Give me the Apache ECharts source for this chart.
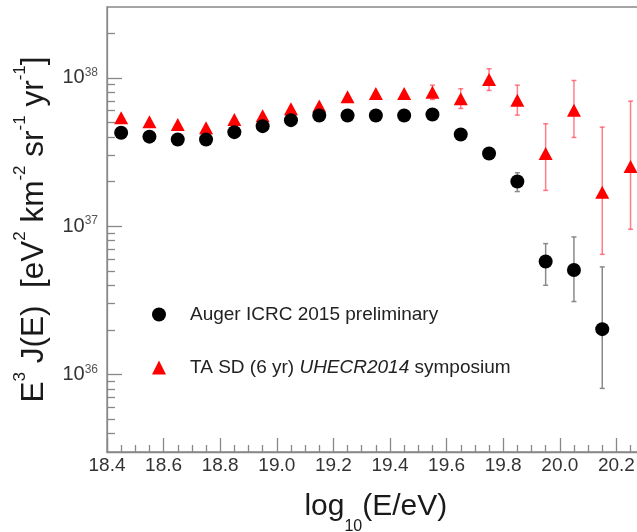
<!DOCTYPE html>
<html>
<head>
<meta charset="utf-8">
<script src="https://cdn.jsdelivr.net/npm/echarts@6/dist/echarts.min.js"></script>
<style>html,body{margin:0;padding:0;background:#fff;}#c{width:637px;height:532px;}</style>
</head>
<body>
<div id="c"></div>
<script>
// ---- data ----
const energy = [18.45, 18.55, 18.65, 18.75, 18.85, 18.95, 19.05, 19.15, 19.25, 19.35,
                19.45, 19.55, 19.65, 19.75, 19.85, 19.95, 20.05, 20.15, 20.25];
const augerFlux = [4.26e37, 4.01e37, 3.84e37, 3.84e37, 4.30e37, 4.72e37, 5.18e37, 5.57e37, 5.57e37,
                   5.57e37, 5.57e37, 5.66e37, 4.15e37, 3.09e37, 2.0e37, 5.77e36, 5.06e36, 2.02e36];
const augerLow  = [null, null, null, null, null, null, null, null, null,
                   null, null, null, null, null, 1.71e37, 3.99e36, 3.10e36, 8.05e35];
const augerHigh = [null, null, null, null, null, null, null, null, null,
                   null, null, null, null, null, 2.29e37, 7.62e36, 8.45e36, 5.31e36];
const taFlux = [5.38e37, 5.06e37, 4.85e37, 4.60e37, 5.24e37, 5.55e37, 6.18e37, 6.44e37, 7.45e37, 7.84e37,
                7.84e37, 8.0e37, 7.23e37, 9.74e37, 7.05e37, 3.09e37, 6.04e37, 1.69e37, 2.52e37];
const taLow  = [null, null, null, null, null, null, null, null, null, null,
                null, 7.14e37, 6.21e37, 8.21e37, 5.6e37, 1.74e37, 3.96e37, 6.45e36, 9.52e36];
const taHigh = [null, null, null, null, null, null, null, null, null, null,
                null, 8.92e37, 8.43e37, 1.15e38, 8.92e37, 4.9e37, 9.59e37, 4.65e37, 6.96e37];
const xTickLabels = ['18.4', '18.6', '18.8', '19.0', '19.2', '19.4', '19.6', '19.8', '20.0', '20.2'];
const yMajorTicks = [1e36, 1e37, 1e38];
const yMinorMantissa = [2, 3, 4, 5, 6, 7, 8, 9];
const yDecades = [1e35, 1e36, 1e37, 1e38];
const seriesNames = ['Auger ICRC 2015 preliminary', 'TA SD (6 yr) UHECR2014 symposium'];

const yMin = 3e35, yMax = 3e38;
const yMinorTicks = [];
yDecades.forEach(d => yMinorMantissa.forEach(m => {
  const v = m * d;
  if (v > yMin * 1.0001 && v < yMax * 0.9999) yMinorTicks.push(v);
}));

function pairs(flux) { return flux.map((v, i) => [energy[i], v]); }
function errData(low, high) {
  const out = [];
  low.forEach((l, i) => { if (l != null && high[i] != null) out.push([energy[i], l, high[i]]); });
  return out;
}
function errRender(color, width) {
  return function (params, api) {
    const x = api.value(0), lo = api.value(1), hi = api.value(2);
    const a = api.coord([x, hi]), b = api.coord([x, lo]);
    const cap = 2.5;
    const st = { stroke: color, lineWidth: width };
    return {
      type: 'group',
      children: [
        { type: 'line', shape: { x1: a[0], y1: a[1], x2: b[0], y2: b[1] }, style: st },
        { type: 'line', shape: { x1: a[0] - cap, y1: a[1], x2: a[0] + cap, y2: a[1] }, style: st },
        { type: 'line', shape: { x1: b[0] - cap, y1: b[1], x2: b[0] + cap, y2: b[1] }, style: st }
      ]
    };
  };
}

const axisGray = '#888888';
const font = 'Liberation Sans, Arial, sans-serif';

const chart = echarts.init(document.getElementById('c'), null, { renderer: 'canvas' });
chart.setOption({
  animation: false,
  backgroundColor: '#ffffff',
  textStyle: { fontFamily: font },
  grid: {
    left: 107, top: 7, bottom: 80, right: -7.7, show: true, borderColor: axisGray, borderWidth: 1.3,
    backgroundColor: 'transparent', containLabel: false, outerBoundsMode: 'none'
  },
  legend: {
    orient: 'vertical', left: 152, top: 305, itemGap: 34, itemWidth: 14, itemHeight: 14, padding: 0,
    selectedMode: false,
    data: [{ name: seriesNames[0], icon: 'circle' }, { name: seriesNames[1], icon: 'triangle' }],
    formatter: function (name) {
      if (name === seriesNames[1]) return '{p|}{n|TA SD (6 yr) }{i|UHECR2014}{n| symposium}';
      return '{p|}{n|' + name + '}';
    },
    textStyle: {
      rich: {
        p: { width: 19, lineHeight: 22 },
        n: { fontSize: 19, color: '#222', fontFamily: font, lineHeight: 22 },
        i: { fontSize: 19, color: '#222', fontFamily: font, fontStyle: 'italic', lineHeight: 22 }
      }
    }
  },
  xAxis: {
    type: 'value', min: 18.4, max: 20.3, interval: 0.2,
    name: '{m|log}{s|10}{m|(E/eV)}', nameLocation: 'middle', nameGap: 27,
    nameTextStyle: {
      rich: {
        m: { fontSize: 30, color: '#1a1a1a', fontFamily: font, lineHeight: 56 },
        s: { fontSize: 16, color: '#1a1a1a', fontFamily: font, lineHeight: 16, verticalAlign: 'bottom' }
      }
    },
    axisLine: { show: true, onZero: false, lineStyle: { color: axisGray, width: 1.3 } },
    axisTick: { show: true, inside: true, length: 14, lineStyle: { color: axisGray, width: 1.3 } },
    minorTick: { show: true, splitNumber: 4, length: 7, lineStyle: { color: axisGray, width: 1.3 } },
    splitLine: { show: false },
    axisLabel: {
      margin: 4, fontSize: 19, color: '#333', fontFamily: font, showMaxLabel: false,
      formatter: function (v) {
        const s = v.toFixed(1);
        return xTickLabels.indexOf(s) >= 0 && Math.abs(v - parseFloat(s)) < 1e-6 ? s : '';
      }
    }
  },
  yAxis: [{
    type: 'log', logBase: 10, min: yMin, max: yMax,
    name: '{m|E}{s|3}{m| J(E)  [eV}{s|2}{m| km}{s|-2}{m| sr}{s|-1}{m| yr}{s|-1}{m|]}',
    nameLocation: 'middle', nameRotate: 90, nameGap: 51,
    nameTextStyle: {
      rich: {
        m: { fontSize: 31.5, color: '#1a1a1a', fontFamily: font, lineHeight: 44 },
        s: { fontSize: 17, color: '#1a1a1a', fontFamily: font, lineHeight: 17, verticalAlign: 'top' }
      }
    },
    axisLine: { show: true, onZero: false, lineStyle: { color: axisGray, width: 1.3 } },
    axisTick: { show: true, inside: true, length: 15, customValues: yMajorTicks, lineStyle: { color: axisGray, width: 1.3 } },
    splitLine: { show: false },
    minorTick: { show: false },
    axisLabel: {
      margin: 9, customValues: yMajorTicks,
      formatter: function (v) { return '{b|10}{s|' + Math.round(Math.log10(v)) + '}'; },
      rich: {
        b: { fontSize: 20, color: '#333', fontFamily: font, lineHeight: 22 },
        s: { fontSize: 12, color: '#555', fontFamily: font, lineHeight: 12, verticalAlign: 'top' }
      }
    }
  }, {
    type: 'log', logBase: 10, min: yMin, max: yMax, position: 'left', offset: 0,
    axisLine: { show: false },
    axisTick: { show: true, inside: true, length: 8, customValues: yMinorTicks, lineStyle: { color: axisGray, width: 1.3 } },
    axisLabel: { show: false },
    splitLine: { show: false },
    minorTick: { show: false }
  }],
  series: [
    {
      type: 'custom', name: 'augerErr', renderItem: errRender('#8a8a8a', 1.5),
      data: errData(augerLow, augerHigh), encode: { x: 0, y: [1, 2] }, z: 1, silent: true
    },
    {
      type: 'custom', name: 'taErr', renderItem: errRender('rgba(255,40,60,0.6)', 1.5),
      data: errData(taLow, taHigh), encode: { x: 0, y: [1, 2] }, z: 1, silent: true
    },
    {
      type: 'scatter', name: seriesNames[0], data: pairs(augerFlux),
      symbol: 'circle', symbolSize: 14, itemStyle: { color: '#000000', opacity: 1 }, z: 3
    },
    {
      type: 'scatter', name: seriesNames[1], data: pairs(taFlux),
      symbol: 'triangle', symbolSize: [14, 13], itemStyle: { color: '#ff0000', opacity: 1 }, z: 2
    }
  ]
});
</script>
</body>
</html>
